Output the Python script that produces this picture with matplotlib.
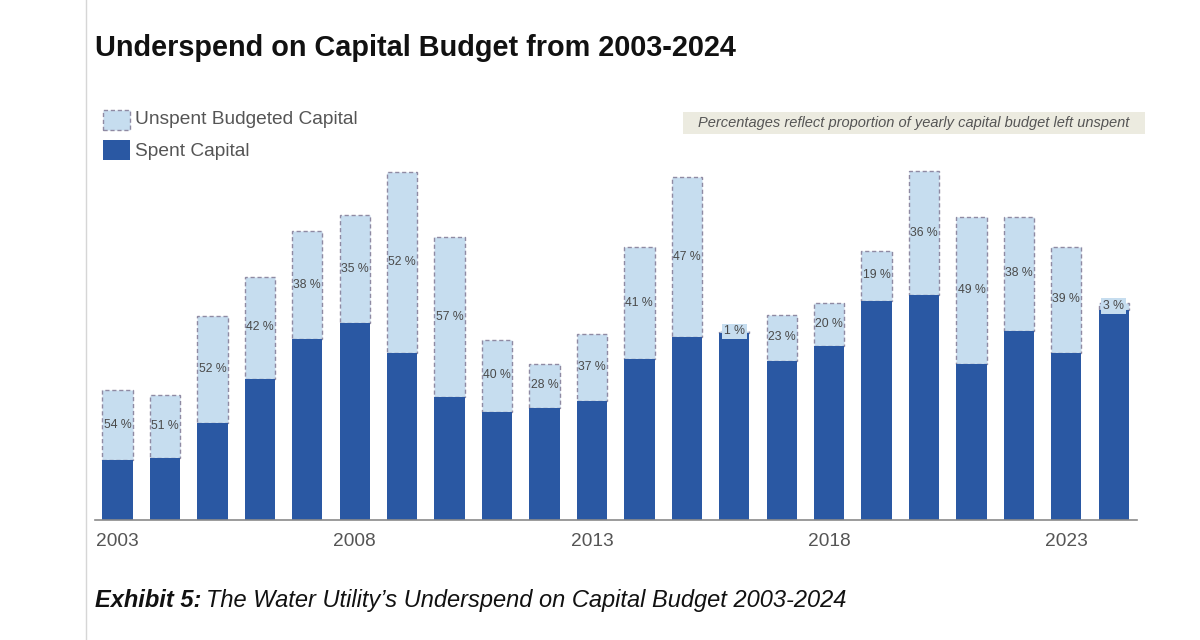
import matplotlib
matplotlib.use("Agg")
import matplotlib.pyplot as plt
from matplotlib.patches import Rectangle
from matplotlib.lines import Line2D
import numpy as np

plt.rcParams['font.family'] = ['Liberation Sans', 'DejaVu Sans']

years = list(range(2003, 2025))
spent = [60, 62, 97, 141, 181, 197, 167, 123, 108, 112, 119, 161,
         183, 187, 159, 174, 219, 225, 156, 189, 167, 210]
unspent = [70, 63, 107, 102, 108, 108, 181, 160, 72, 44, 67, 112,
           160, 2, 46, 43, 50, 124, 147, 114, 106, 7]
pct_labels = ["54 %", "51 %", "52 %", "42 %", "38 %", "35 %", "52 %", "57 %",
              "40 %", "28 %", "37 %", "41 %", "47 %", "1 %", "23 %", "20 %",
              "19 %", "36 %", "49 %", "38 %", "39 %", "3 %"]
tick_years = [2003, 2008, 2013, 2018, 2023]

SPENT_C = "#2a58a3"
UNSPENT_C = "#c6ddef"
EDGE_C = "#8f8aa3"
W, H = 1200, 640

fig = plt.figure(figsize=(12, 6.4), dpi=100)
ax = fig.add_axes([95 / W, 1 - 519.5 / H, (1137 - 95) / W, (519.5 - 160) / H])

x = np.arange(len(years))
ax.bar(x, spent, width=0.64, color=SPENT_C, linewidth=0, zorder=2)
ax.bar(x, unspent, bottom=spent, width=0.64, color=UNSPENT_C,
       edgecolor=EDGE_C, linewidth=1.0, linestyle=(0, (3, 2)), zorder=1)

for xi, s, u, lab in zip(x, spent, unspent, pct_labels):
    yc = s + u / 2
    kw = {}
    if u < 20:
        kw['bbox'] = dict(boxstyle='square,pad=0.15', facecolor=UNSPENT_C,
                          edgecolor='none')
    ax.text(xi, yc, lab, ha='center', va='center', fontsize=8.8,
            color='#4a4a4a', zorder=5, **kw)

ax.set_xlim(-0.475, 21.49)
ax.set_ylim(0, 359.5)
for sp in ['top', 'right', 'left']:
    ax.spines[sp].set_visible(False)
ax.spines['bottom'].set_color('#8a8a8a')
ax.spines['bottom'].set_linewidth(1.2)
ax.set_yticks([])
ax.set_xticks([years.index(y) for y in tick_years])
ax.set_xticklabels([str(y) for y in tick_years], fontsize=13.8, color='#555555')
ax.tick_params(axis='x', length=0, pad=10)

# page border line
fig.add_artist(Line2D([86 / W, 86 / W], [0, 1], color='#d6d6d6', linewidth=1,
                      transform=fig.transFigure))

# title
fig.text(95 / W, 1 - 48 / H, "Underspend on Capital Budget from 2003-2024",
         fontsize=20.8, fontweight='bold', color='#111111', va='center', ha='left')

# legend
fig.add_artist(Rectangle((103 / W, 1 - 130 / H), 27 / W, 20 / H,
                         facecolor=UNSPENT_C, edgecolor=EDGE_C, linewidth=1,
                         linestyle=(0, (3, 2)), transform=fig.transFigure))
fig.add_artist(Rectangle((103 / W, 1 - 160 / H), 27 / W, 20 / H,
                         facecolor=SPENT_C, edgecolor='none',
                         transform=fig.transFigure))
fig.text(135 / W, 1 - 120 / H, "Unspent Budgeted Capital", fontsize=13.8,
         color='#555555', va='center', ha='left')
fig.text(135 / W, 1 - 151 / H, "Spent Capital", fontsize=13.8,
         color='#555555', va='center', ha='left')

# note box
fig.add_artist(Rectangle((683 / W, 1 - 134 / H), (1145 - 683) / W, 22 / H,
                         facecolor='#ecebe0', edgecolor='none',
                         transform=fig.transFigure))
fig.text(914 / W, 1 - 123.5 / H,
         "Percentages reflect proportion of yearly capital budget left unspent",
         fontsize=10.5, style='italic', color='#555555', va='center', ha='center')

# caption
t1 = fig.text(95 / W, 1 - 607 / H, "Exhibit 5:", fontsize=17,
              fontweight='bold', style='italic', color='#111111',
              va='baseline', ha='left')
fig.canvas.draw()
bb = t1.get_window_extent(renderer=fig.canvas.get_renderer())
fig.text(bb.x1 / W + 5 / W, 1 - 607 / H,
         "The Water Utility\u2019s Underspend on Capital Budget 2003-2024",
         fontsize=17, style='italic', color='#111111', va='baseline', ha='left')

fig.savefig("out.png", dpi=100, facecolor='white')
